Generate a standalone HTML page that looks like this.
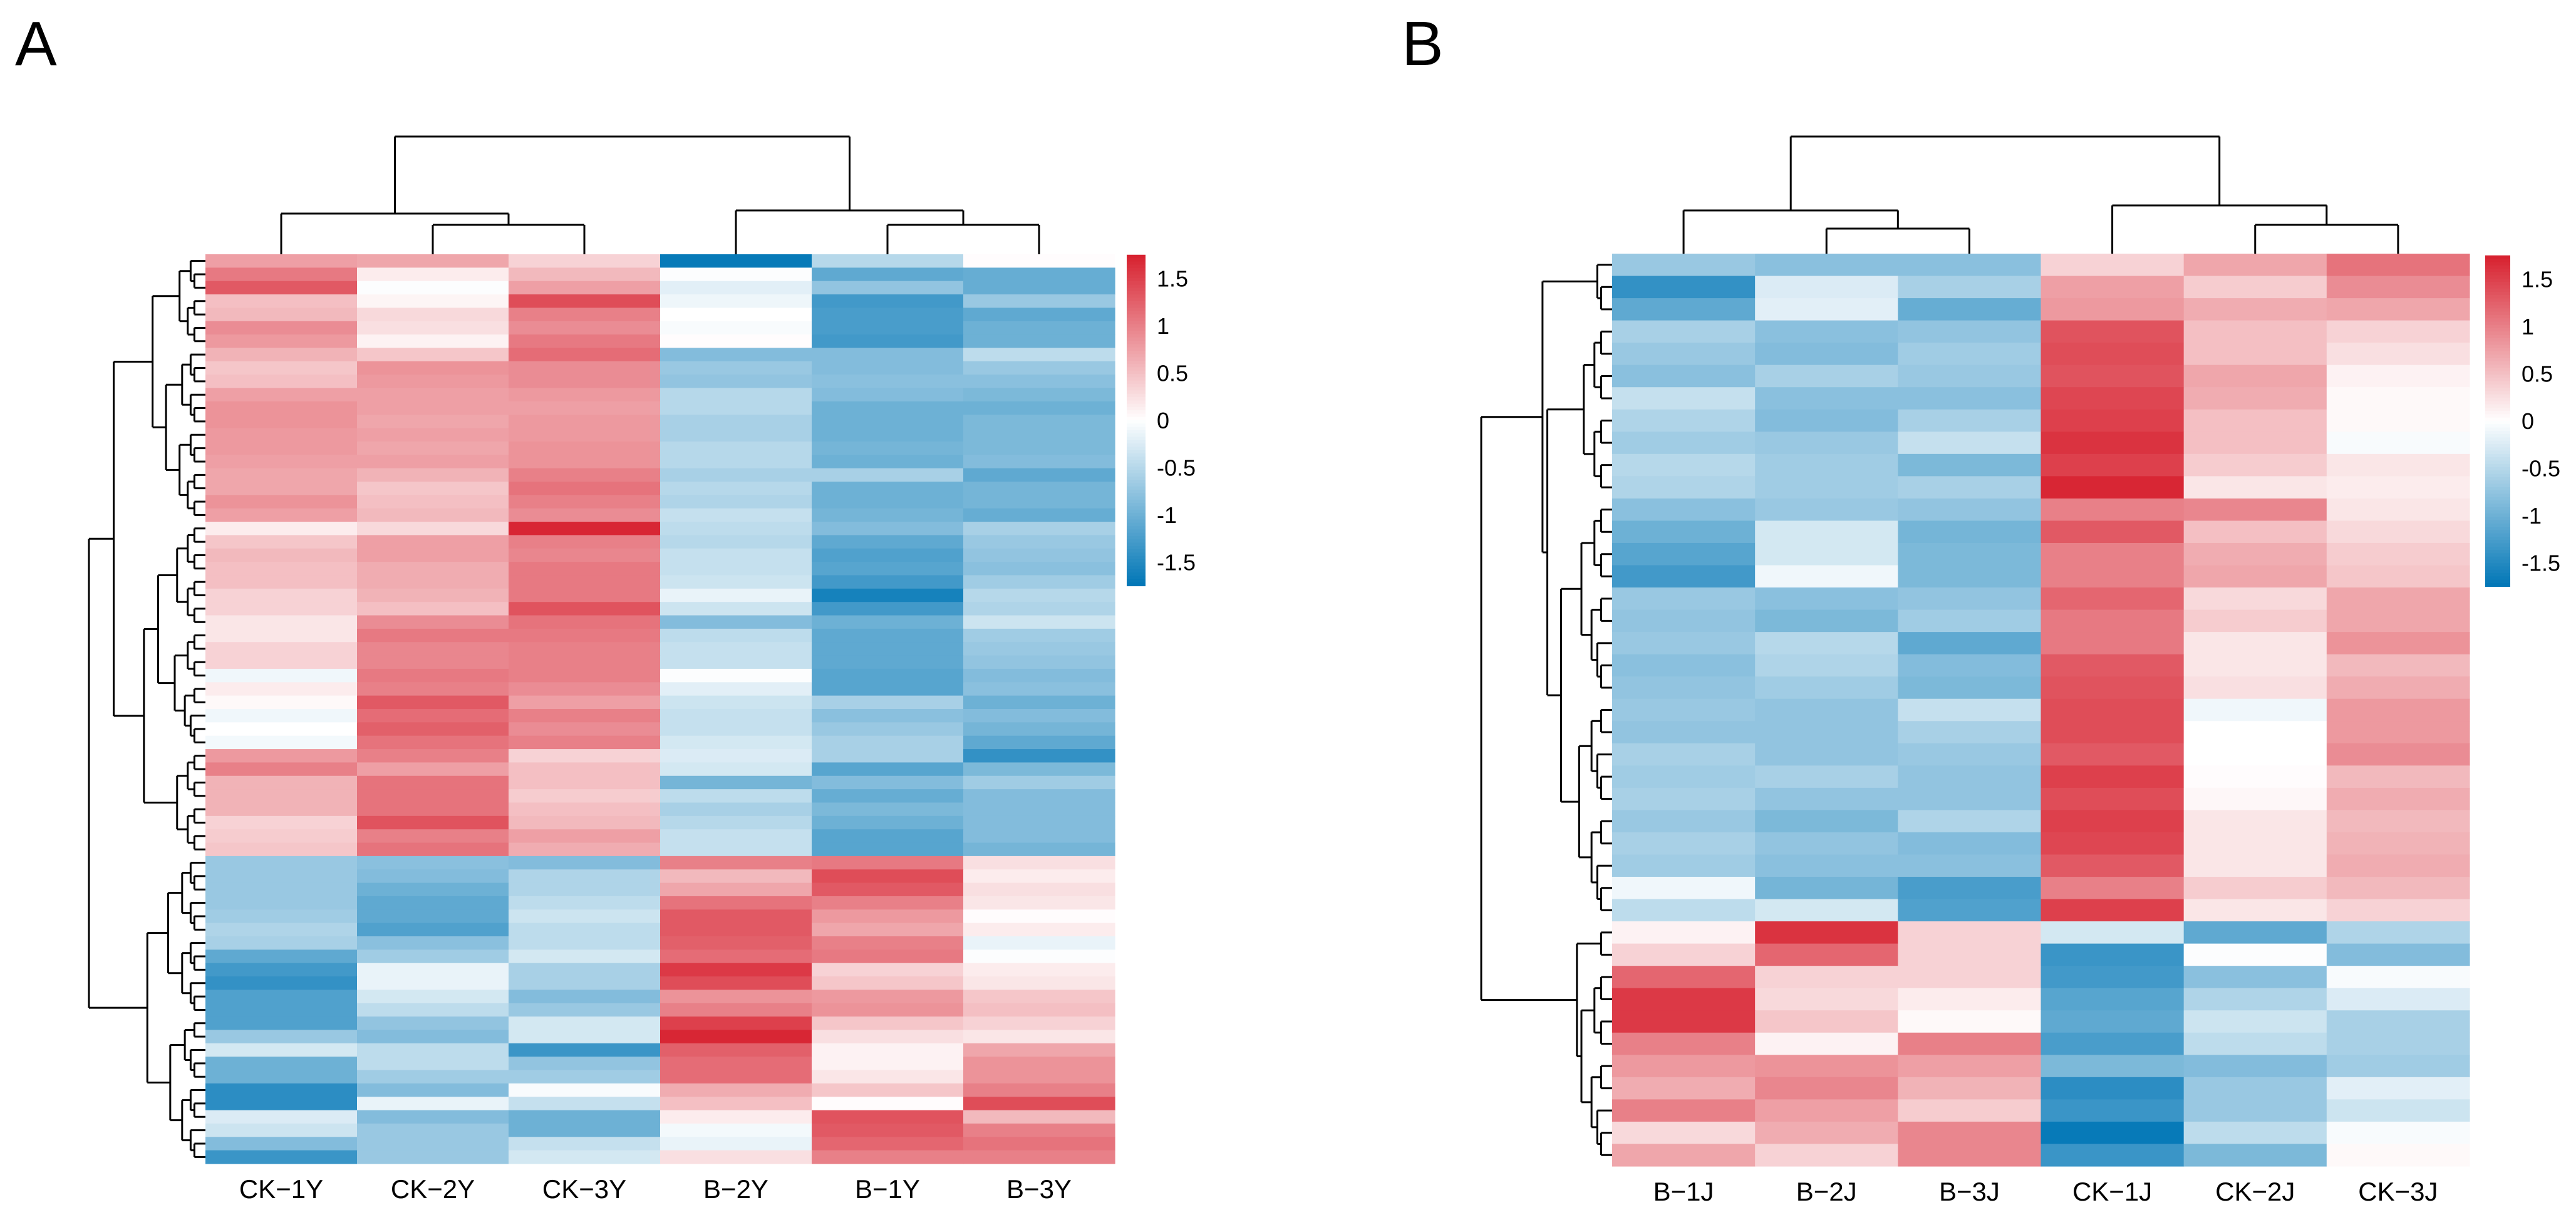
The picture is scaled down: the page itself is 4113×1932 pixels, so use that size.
<!DOCTYPE html>
<html><head><meta charset="utf-8">
<style>
html,body{margin:0;padding:0;background:#fff;}
svg{display:block;font-family:"Liberation Sans",Arial,sans-serif;}
</style></head>
<body>
<svg id="fig" width="4113" height="1932" viewBox="0 0 4113 1932" xmlns="http://www.w3.org/2000/svg">
<text x="24" y="104" font-size="100">A</text>
<text x="2238" y="104" font-size="100">B</text>
<g id="pa"></g>
<g id="pb"></g>
</svg>
<script>
const colsA = ["CK−1Y","CK−2Y","CK−3Y","B−2Y","B−1Y","B−3Y"];
const valsA = [
[0.75,0.7,0.35,-1.7,-0.5,0.02],[1.05,0.15,0.55,-0.02,-1.1,-1.05],[1.3,-0.02,0.75,-0.2,-0.75,-1.05],
[0.5,0.08,1.4,-0.12,-1.3,-0.7],[0.55,0.3,1.0,0.0,-1.25,-1.1],[0.9,0.25,0.9,-0.05,-1.25,-1.0],
[0.8,0.1,1.05,0.02,-1.3,-1.0],[0.6,0.45,1.15,-0.85,-0.85,-0.45],[0.45,0.85,0.9,-0.7,-0.85,-0.7],
[0.5,0.8,0.9,-0.75,-0.8,-0.8],[0.75,0.75,0.8,-0.5,-0.85,-0.9],[0.85,0.75,0.75,-0.5,-1.0,-1.0],
[0.85,0.7,0.8,-0.6,-1.0,-0.9],[0.8,0.75,0.8,-0.6,-1.0,-0.9],[0.8,0.7,0.85,-0.5,-0.95,-0.9],
[0.75,0.75,0.85,-0.5,-1.0,-0.85],[0.7,0.6,1.0,-0.6,-0.6,-1.1],[0.7,0.45,1.1,-0.5,-1.0,-0.95],
[0.85,0.5,1.0,-0.55,-1.0,-0.95],[0.75,0.55,0.9,-0.4,-0.95,-1.05],[0.15,0.3,1.7,-0.45,-0.85,-0.6],
[0.45,0.75,1.0,-0.5,-1.1,-0.7],[0.55,0.75,0.95,-0.4,-1.2,-0.75],[0.5,0.65,1.05,-0.4,-1.15,-0.8],
[0.5,0.65,1.05,-0.35,-1.3,-0.65],[0.35,0.6,1.05,-0.15,-1.6,-0.5],[0.35,0.5,1.35,-0.35,-1.3,-0.55],
[0.2,0.9,1.1,-0.85,-1.0,-0.35],[0.2,1.05,1.05,-0.45,-1.1,-0.65],[0.35,0.95,1.0,-0.4,-1.1,-0.7],
[0.35,0.95,1.0,-0.4,-1.1,-0.75],[-0.1,1.05,1.0,-0.02,-1.15,-0.85],[0.15,1.0,0.9,-0.2,-1.15,-0.8],
[0.05,1.3,0.75,-0.35,-0.6,-1.0],[-0.1,1.15,1.0,-0.4,-0.8,-0.85],[0.0,1.25,0.9,-0.4,-0.7,-0.95],
[-0.08,1.1,1.0,-0.3,-0.6,-1.1],[0.8,1.0,0.35,-0.25,-0.6,-1.4],[1.0,0.75,0.5,-0.3,-1.15,-0.9],
[0.6,1.1,0.5,-0.95,-0.85,-0.65],[0.6,1.1,0.4,-0.45,-1.05,-0.85],[0.6,1.1,0.5,-0.6,-0.9,-0.85],
[0.35,1.35,0.55,-0.5,-1.0,-0.85],[0.4,1.0,0.75,-0.4,-1.15,-0.85],[0.45,1.1,0.65,-0.4,-1.15,-0.95],
[-0.7,-0.8,-0.85,1.0,1.05,0.25],[-0.7,-0.85,-0.55,0.55,1.4,0.15],[-0.7,-1.0,-0.55,0.7,1.3,0.25],
[-0.7,-1.1,-0.45,1.1,1.0,0.2],[-0.65,-1.1,-0.35,1.3,0.8,0.02],[-0.55,-1.2,-0.45,1.3,0.7,0.15],
[-0.6,-0.8,-0.45,1.25,1.0,-0.15],[-1.1,-0.65,-0.3,1.15,1.05,-0.02],[-1.3,-0.15,-0.6,1.55,0.35,0.15],
[-1.4,-0.15,-0.6,1.4,0.45,0.2],[-1.2,-0.3,-0.85,0.85,0.8,0.45],[-1.2,-0.45,-0.7,1.0,0.85,0.5],
[-1.2,-0.75,-0.3,1.5,0.45,0.35],[-0.7,-0.85,-0.3,1.7,0.25,0.2],[-0.3,-0.45,-1.35,1.25,0.1,0.7],
[-1.0,-0.45,-0.75,1.15,0.1,0.85],[-1.0,-0.65,-0.65,1.15,0.2,0.85],[-1.45,-0.85,-0.05,0.65,0.45,1.0],
[-1.45,-0.15,-0.4,0.5,0.02,1.4],[-0.25,-0.85,-1.0,0.15,1.35,0.55],[-0.35,-0.7,-1.0,-0.08,1.3,1.0],
[-0.85,-0.7,-0.4,-0.15,1.2,1.1],[-1.35,-0.7,-0.3,0.25,1.0,1.0]
];
const colsB = ["B−1J","B−2J","B−3J","CK−1J","CK−2J","CK−3J"];
const valsB = [
[-0.7,-0.8,-0.8,0.35,0.7,1.1],[-1.4,-0.25,-0.6,0.75,0.4,0.9],[-1.1,-0.2,-1.05,0.8,0.65,0.7],
[-0.6,-0.8,-0.75,1.35,0.5,0.35],[-0.7,-0.85,-0.65,1.4,0.5,0.25],[-0.8,-0.6,-0.7,1.35,0.7,0.1],
[-0.4,-0.8,-0.8,1.45,0.65,0.05],[-0.55,-0.85,-0.6,1.5,0.5,0.05],[-0.65,-0.7,-0.4,1.6,0.5,-0.05],
[-0.5,-0.65,-0.9,1.5,0.4,0.2],[-0.55,-0.65,-0.6,1.7,0.2,0.15],[-0.8,-0.7,-0.75,1.0,0.95,0.2],
[-1.0,-0.3,-0.95,1.3,0.5,0.3],[-1.15,-0.3,-0.9,1.0,0.65,0.4],[-1.3,-0.1,-0.9,1.0,0.7,0.45],
[-0.7,-0.8,-0.75,1.2,0.3,0.7],[-0.75,-0.9,-0.65,1.05,0.4,0.7],[-0.7,-0.5,-1.1,1.05,0.2,0.85],
[-0.8,-0.55,-0.85,1.3,0.2,0.55],[-0.75,-0.65,-0.9,1.35,0.25,0.65],[-0.7,-0.75,-0.4,1.4,-0.1,0.8],
[-0.75,-0.75,-0.6,1.4,0.0,0.8],[-0.6,-0.75,-0.7,1.3,0.0,0.9],[-0.65,-0.6,-0.75,1.5,0.02,0.55],
[-0.6,-0.75,-0.75,1.4,0.06,0.65],[-0.7,-0.9,-0.55,1.5,0.2,0.55],[-0.6,-0.75,-0.85,1.45,0.2,0.6],
[-0.65,-0.8,-0.8,1.3,0.2,0.65],[-0.1,-0.95,-1.25,1.0,0.4,0.55],[-0.45,-0.3,-1.2,1.5,0.2,0.35],
[0.1,1.6,0.35,-0.3,-1.1,-0.55],[0.35,1.2,0.35,-1.35,-0.02,-0.85],[1.2,0.35,0.35,-1.3,-0.8,-0.05],
[1.55,0.3,0.15,-1.15,-0.55,-0.25],[1.55,0.45,0.05,-1.1,-0.35,-0.6],[1.0,0.1,1.0,-1.25,-0.45,-0.6],
[0.8,0.85,0.75,-0.9,-0.85,-0.65],[0.65,0.95,0.6,-1.45,-0.7,-0.2],[1.0,0.75,0.4,-1.35,-0.7,-0.35],
[0.3,0.65,0.95,-1.7,-0.45,-0.05],[0.7,0.35,0.95,-1.35,-0.9,0.05]
];
const legendTicks = [1.5,1,0.5,0,-0.5,-1,-1.5];
const legendTickLabels = ["1.5","1","0.5","0","-0.5","-1","-1.5"];

const NS = "http://www.w3.org/2000/svg";
const VMAX = 1.75;
const RED = [215,32,46], BLUE = [0,118,182];
function color(v){
  let t = Math.max(-1, Math.min(1, v / VMAX));
  const end = t >= 0 ? RED : BLUE; t = Math.abs(t);
  const c = end.map(e => Math.round(255 + (e - 255) * t));
  return `rgb(${c[0]},${c[1]},${c[2]})`;
}
function mk(parent, tag, attrs){
  const el = document.createElementNS(NS, tag);
  for (const k in attrs) el.setAttribute(k, attrs[k]);
  parent.appendChild(el);
  return el;
}
function line(g, x1, y1, x2, y2, name){
  const el = mk(g, "line", {x1:x1, y1:y1, x2:x2, y2:y2, stroke:"#000", "stroke-width":3});
  
  
}

function drawPanel(gid, cols, vals, cfg){
  const g = document.getElementById(gid);
  const nR = vals.length, nC = cols.length;
  const cw = (cfg.x1 - cfg.x0) / nC, rh = (cfg.y1 - cfg.y0) / nR;
  const xs = i => cfg.x0 + i * cw;
  const ys = r => cfg.y0 + r * rh;
  for (let r = 0; r < nR; r++) for (let c = 0; c < nC; c++) {
    const el = mk(g, "rect", {x: xs(c), y: ys(r), width: cw + 0.6, height: rh + 0.6, fill: color(vals[r][c])});
    
    
  }
  cols.forEach((lab, i) => {
    const t = mk(g, "text", {x: xs(i) + cw / 2, y: cfg.y1 + 55, "font-size": 42, "text-anchor": "middle"});
    t.textContent = lab;
    
    
  });
  const splits = cfg.rowSplits;
  function node(a, b){
    if (a === b) return {y: ys(a) + rh / 2, x: cfg.x0};
    const s = splits[a + "-" + b] !== undefined ? splits[a + "-" + b] : Math.floor((a + b + 1) / 2);
    const l = node(a, s - 1), r = node(s, b);
    const size = b - a + 1;
    let x = cfg.x0 - 11 * Math.pow(size, 0.68);
    if (a === 0 && b === nR - 1) x = cfg.rootX;
    x = Math.min(x, l.x - 6, r.x - 6);
    line(g, x, l.y, x, r.y, 'row-dendrogram-branch');
    line(g, x, l.y, l.x, l.y, 'row-dendrogram-branch');
    line(g, x, r.y, r.x, r.y, 'row-dendrogram-branch');
    return {y: (l.y + r.y) / 2, x: x};
  }
  node(0, nR - 1);
  const cx = i => xs(i) + cw / 2;
  const cd = cfg.colD, top = cfg.y0;
  const L23 = (cx(1) + cx(2)) / 2, R23 = (cx(4) + cx(5)) / 2;
  line(g, cx(1), top, cx(1), cd.l2, 'column-dendrogram-branch');
  line(g, cx(2), top, cx(2), cd.l2, 'column-dendrogram-branch');
  line(g, cx(1), cd.l2, cx(2), cd.l2, 'column-dendrogram-branch');
  line(g, cx(0), top, cx(0), cd.l1, 'column-dendrogram-branch');
  line(g, L23, cd.l2, L23, cd.l1, 'column-dendrogram-branch');
  line(g, cx(0), cd.l1, L23, cd.l1, 'column-dendrogram-branch');
  line(g, cx(4), top, cx(4), cd.r2, 'column-dendrogram-branch');
  line(g, cx(5), top, cx(5), cd.r2, 'column-dendrogram-branch');
  line(g, cx(4), cd.r2, cx(5), cd.r2, 'column-dendrogram-branch');
  line(g, cx(3), top, cx(3), cd.r1, 'column-dendrogram-branch');
  line(g, R23, cd.r2, R23, cd.r1, 'column-dendrogram-branch');
  line(g, cx(3), cd.r1, R23, cd.r1, 'column-dendrogram-branch');
  const Lm = (cx(0) + L23) / 2, Rm = (cx(3) + R23) / 2;
  line(g, Lm, cd.l1, Lm, cd.root, 'column-dendrogram-branch');
  line(g, Rm, cd.r1, Rm, cd.root, 'column-dendrogram-branch');
  line(g, Lm, cd.root, Rm, cd.root, 'column-dendrogram-branch');
  const lg = cfg.leg, steps = 100;
  const ly = v => lg.zeroY - v * lg.perUnit;
  for (let i = 0; i < steps; i++) {
    const v0 = VMAX - i * (2 * VMAX / steps);
    const y0 = ly(v0), y1 = ly(v0 - 2 * VMAX / steps);
    const el = mk(g, "rect", {x: lg.x, y: y0, width: lg.w, height: y1 - y0 + 0.8, fill: color(v0 - VMAX / steps)});
    
    
  }
  legendTicks.forEach((v, i) => {
    const t = mk(g, "text", {x: lg.x + lg.w + 18, y: ly(v) + 13, "font-size": 36});
    t.textContent = legendTickLabels[i];
    
    
  });
}

drawPanel("pa", colsA, valsA, {
  x0: 328, x1: 1780, y0: 406, y1: 1858, rootX: 142,
  rowSplits: {"0-67": 45, "0-44": 20, "45-67": 57, "0-19": 7, "20-44": 37},
  colD: {root: 218, l1: 341, l2: 359, r1: 336, r2: 359},
  leg: {x: 1799, w: 30, zeroY: 671, perUnit: 151}
});
drawPanel("pb", colsB, valsB, {
  x0: 2574, x1: 3943, y0: 405, y1: 1862, rootX: 2365,
  rowSplits: {"0-40": 30, "0-29": 3, "30-40": 32, "3-29": 11},
  colD: {root: 218, l1: 336, l2: 365, r1: 328, r2: 359},
  leg: {x: 3968, w: 40, zeroY: 672, perUnit: 151}
});
</script>
</body></html>
